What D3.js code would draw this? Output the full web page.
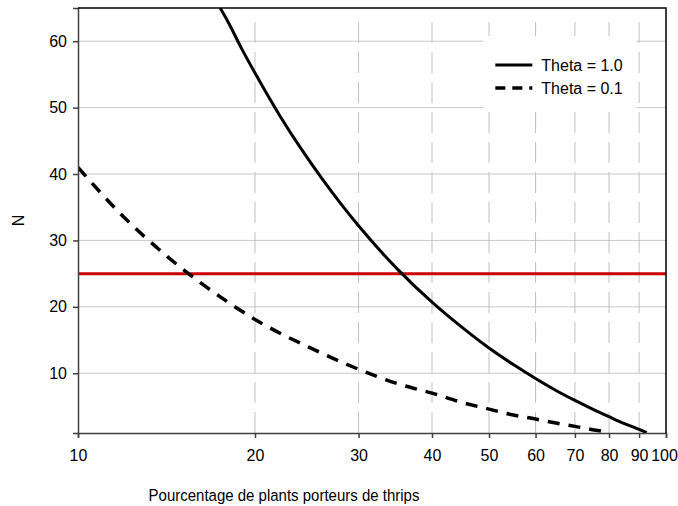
<!DOCTYPE html>
<html>
<head>
<meta charset="utf-8">
<script src="https://cdn.jsdelivr.net/npm/d3@7"></script>
<style>
  html, body { margin: 0; padding: 0; background: #fff; }
  text { font-family: "Liberation Sans", Arial, sans-serif; fill: #000; }
</style>
</head>
<body>
<div id="chart"></div>
<script>
// percentage of plants carrying thrips (x) and sample size N (y)
const theta10X = [17.45, 18, 19, 20, 22, 24, 26, 28, 30, 35, 40, 45, 50, 55, 60, 65, 70, 75, 80, 85, 90, 92.7];
const theta10N = [65, 62.9, 58.8, 55.2, 48.9, 43.7, 39.3, 35.5, 32.2, 25.6, 20.7, 16.9, 13.8, 11.3, 9.2, 7.4, 5.9, 4.6, 3.45, 2.4, 1.55, 1.05];

const theta01X = [10, 12, 14, 16, 18, 20, 25, 30, 35, 40, 45, 50, 55, 60, 65, 70, 75, 80];
const theta01N = [41, 33.4, 28, 23.9, 20.7, 18.1, 13.7, 10.6, 8.4, 7.0, 5.6, 4.6, 3.7, 3.1, 2.5, 2.0, 1.5, 1.1];

const thresholdN = 25;

const xTicks = [10, 20, 30, 40, 50, 60, 70, 80, 90, 100];
const yTicks = [10, 20, 30, 40, 50, 60];

const legendLabels = ["Theta = 1.0", "Theta = 0.1"];
const xTitle = "Pourcentage de plants porteurs de thrips";
const yTitle = "N";

const W = 678, H = 506;
const margin = { top: 8, right: 12, bottom: 73, left: 78 };
const innerW = W - margin.left - margin.right;
const innerH = H - margin.top - margin.bottom;

const svg = d3.select("#chart").append("svg").attr("width", W).attr("height", H);
const g = svg.append("g").attr("transform", `translate(${margin.left},${margin.top})`);

const x = d3.scaleLog().domain([10, 100]).range([0, innerW]);
const y = d3.scaleLinear().domain([1, 65]).range([innerH, 0]);

g.append("clipPath").attr("id", "plot-clip")
  .append("rect").attr("width", innerW).attr("height", innerH);

// horizontal grid (solid)
g.append("g")
  .selectAll("line")
  .data(yTicks)
  .join("line")
  .attr("x1", 0).attr("x2", innerW)
  .attr("y1", (d) => y(d)).attr("y2", (d) => y(d))
  .attr("stroke", "#c8c8c8")
  .attr("stroke-width", 1);

// vertical grid (dashed)
g.append("g")
  .selectAll("line")
  .data(xTicks.filter((d) => d > 10 && d < 100))
  .join("line")
  .attr("x1", (d) => x(d)).attr("x2", (d) => x(d))
  .attr("y1", innerH).attr("y2", 14)
  .attr("stroke", "#c0c0c0")
  .attr("stroke-width", 1)
  .attr("stroke-dasharray", "21,9");

// legend background hides grid behind it
const legX = x(48.9), legY = 28;
g.append("rect")
  .attr("x", legX).attr("y", legY)
  .attr("width", 153).attr("height", 74)
  .attr("fill", "#fff");

// threshold line
g.append("line")
  .attr("x1", 0).attr("x2", innerW)
  .attr("y1", y(thresholdN)).attr("y2", y(thresholdN))
  .attr("stroke", "#cc0000")
  .attr("stroke-width", 3);

const line = d3.line().x((d) => x(d[0])).y((d) => y(d[1])).curve(d3.curveMonotoneX);

const curves = g.append("g").attr("clip-path", "url(#plot-clip)");
curves.append("path")
  .datum(d3.zip(theta10X, theta10N))
  .attr("d", line)
  .attr("fill", "none")
  .attr("stroke", "#000")
  .attr("stroke-width", 3);

curves.append("path")
  .datum(d3.zip(theta01X, theta01N))
  .attr("d", line)
  .attr("fill", "none")
  .attr("stroke", "#000")
  .attr("stroke-width", 3.5)
  .attr("stroke-dasharray", "12,9");

// axes
const yAxis = g.append("g")
  .call(d3.axisLeft(y).tickValues(yTicks).tickSize(5).tickPadding(6));
yAxis.select(".domain").attr("stroke", "#404040").attr("stroke-width", 1.5);
yAxis.selectAll(".tick line").attr("stroke", "#404040").attr("stroke-width", 1.5);
yAxis.selectAll(".tick text").attr("font-size", "16px").attr("font-family", null);

const xAxis = g.append("g")
  .attr("transform", `translate(0,${innerH})`)
  .call(d3.axisBottom(x).tickValues(xTicks).tickFormat(d3.format("d")).tickSize(5).tickPadding(12));
xAxis.select(".domain").attr("stroke", "#404040").attr("stroke-width", 1.5);
xAxis.selectAll(".tick line").attr("stroke", "#404040").attr("stroke-width", 1.5);
xAxis.selectAll(".tick text")
  .attr("font-size", "16px")
  .attr("font-family", null)
  // last label sits at the right edge; pull it in so it is not clipped
  .attr("dx", (d) => (d === 100 ? "-2" : null));

// top and right frame
g.append("path")
  .attr("d", `M0,0H${innerW}V${innerH}`)
  .attr("fill", "none")
  .attr("stroke", "#000")
  .attr("stroke-width", 1.5);

// legend
const legend = g.append("g").attr("transform", `translate(${legX + 12},${legY + 29})`);
legendLabels.forEach((label, i) => {
  const row = legend.append("g").attr("transform", `translate(0,${i * 23})`);
  row.append("line")
    .attr("x1", 0).attr("x2", 37)
    .attr("stroke", "#000")
    .attr("stroke-width", i === 0 ? 3 : 3.5)
    .attr("stroke-dasharray", i === 0 ? null : "10,7");
  row.append("text")
    .attr("x", 46).attr("dy", "0.35em")
    .attr("font-size", "16px")
    .text(label);
});

// titles
svg.append("text")
  .attr("transform", "translate(284,501) scale(1,1.15)")
  .attr("text-anchor", "middle")
  .attr("font-size", "15px")
  .text(xTitle);

svg.append("text")
  .attr("transform", `translate(24,${margin.top + innerH / 2}) rotate(-90)`)
  .attr("text-anchor", "middle")
  .attr("font-size", "16px")
  .text(yTitle);
</script>
</body>
</html>
